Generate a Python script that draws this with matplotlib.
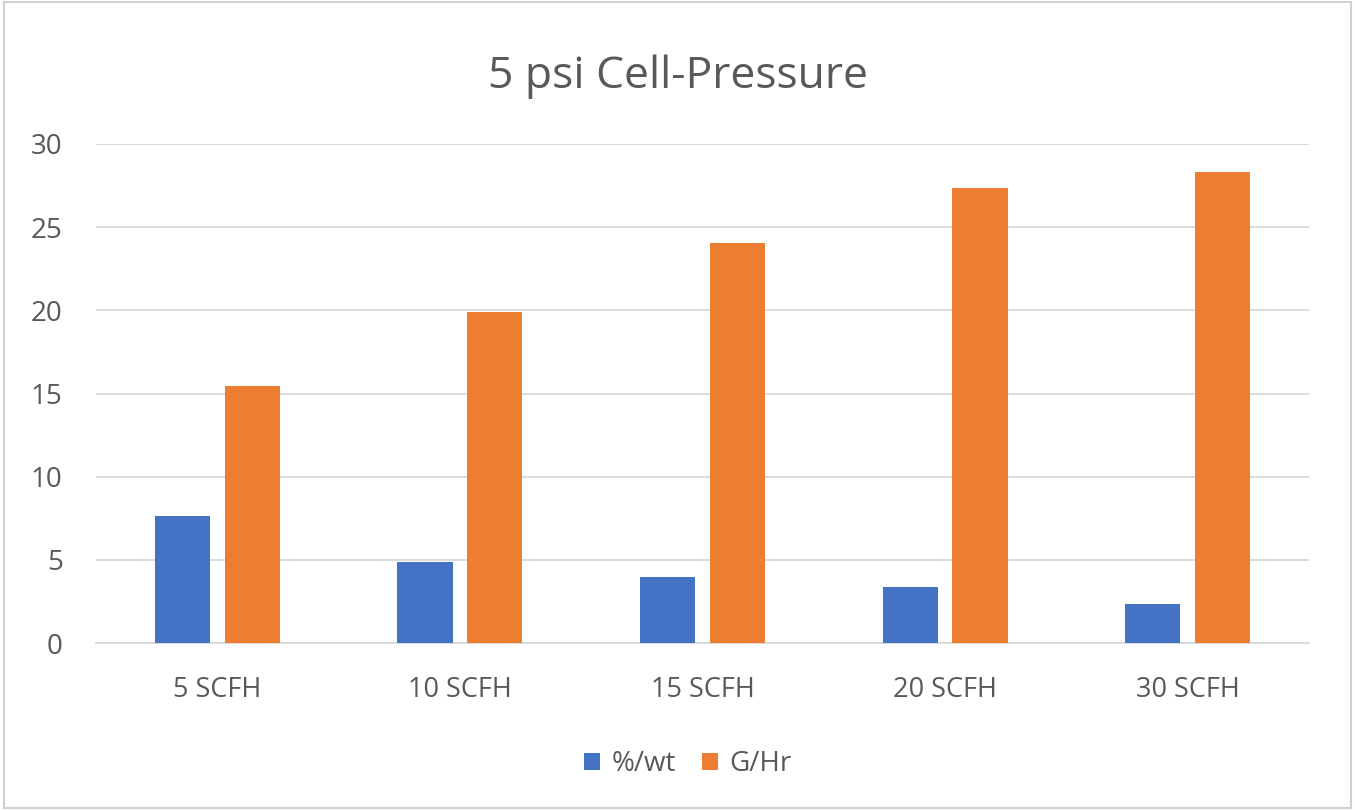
import matplotlib
matplotlib.use("Agg")
import matplotlib.pyplot as plt
import numpy as np
from matplotlib.patches import Rectangle

categories = ["5 SCFH", "10 SCFH", "15 SCFH", "20 SCFH", "30 SCFH"]
wt_pct = [7.65, 4.87, 3.94, 3.36, 2.35]
g_hr = [15.47, 19.9, 24.04, 27.37, 28.3]
series_names = ["%/wt", "G/Hr"]
yticks = [0, 5, 10, 15, 20, 25, 30]

plt.rcParams['font.family'] = ['Open Sans', 'DejaVu Sans']
txt = '#595959'

fig = plt.figure(figsize=(13.55, 8.10), dpi=100)
ax = fig.add_axes([96/1355, 1 - 643/810, (1309-96)/1355, (643-144)/810])

x = np.arange(len(categories))
w = 0.227
off = 0.144
ax.bar(x - off, wt_pct, w, color='#4472C4', label=series_names[0], zorder=3)
ax.bar(x + off, g_hr, w, color='#ED7D31', label=series_names[1], zorder=3)

ax.set_xlim(-0.5, len(categories) - 0.5)
ax.set_ylim(0, 30)
ax.set_yticks(yticks)
ax.set_xticks(x)
ax.set_xticklabels(categories)
ax.yaxis.grid(True, color='#d9d9d9', linewidth=1.3, zorder=0)
for s in ['top', 'right', 'left']:
    ax.spines[s].set_visible(False)
ax.spines['bottom'].set_color('#d9d9d9')
ax.spines['bottom'].set_linewidth(1.3)
ax.tick_params(axis='both', length=0, labelcolor=txt)
ax.tick_params(axis='y', pad=24, labelsize=20)
ax.tick_params(axis='x', pad=24, labelsize=19.5)

fig.text(0.5, 1 - 88/810, "5 psi Cell-Pressure", ha='center', va='baseline',
         fontsize=32, color=txt)

leg = fig.legend(loc='center', bbox_to_anchor=(688/1355, 1 - 764/810), ncol=2,
                 frameon=False, fontsize=20, handlelength=0.58, handleheight=0.58,
                 handletextpad=0.4, columnspacing=0.95, labelcolor=txt)

fig.add_artist(Rectangle((0.003, 0.003), 0.994, 0.994, transform=fig.transFigure,
                         fill=False, edgecolor='#d0d0d0', linewidth=1.5))

fig.savefig("out.png", dpi=100, facecolor='white')
